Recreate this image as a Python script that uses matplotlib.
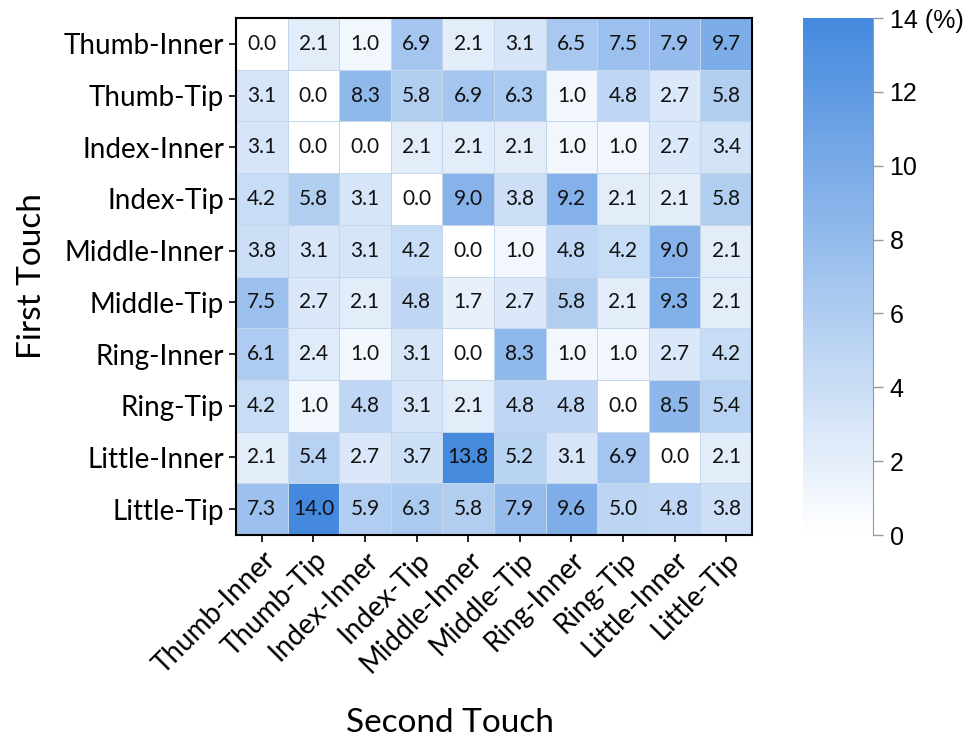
import numpy as np
import matplotlib.pyplot as plt
from matplotlib.colors import LinearSegmentedColormap

# finger segments, same order on both axes
labels = ["Thumb-Inner", "Thumb-Tip", "Index-Inner", "Index-Tip", "Middle-Inner",
          "Middle-Tip", "Ring-Inner", "Ring-Tip", "Little-Inner", "Little-Tip"]

# percentages, rows = first touch, columns = second touch
thumb_inner = [0.0, 2.1, 1.0, 6.9, 2.1, 3.1, 6.5, 7.5, 7.9, 9.7]
thumb_tip = [3.1, 0.0, 8.3, 5.8, 6.9, 6.3, 1.0, 4.8, 2.7, 5.8]
index_inner = [3.1, 0.0, 0.0, 2.1, 2.1, 2.1, 1.0, 1.0, 2.7, 3.4]
index_tip = [4.2, 5.8, 3.1, 0.0, 9.0, 3.8, 9.2, 2.1, 2.1, 5.8]
middle_inner = [3.8, 3.1, 3.1, 4.2, 0.0, 1.0, 4.8, 4.2, 9.0, 2.1]
middle_tip = [7.5, 2.7, 2.1, 4.8, 1.7, 2.7, 5.8, 2.1, 9.3, 2.1]
ring_inner = [6.1, 2.4, 1.0, 3.1, 0.0, 8.3, 1.0, 1.0, 2.7, 4.2]
ring_tip = [4.2, 1.0, 4.8, 3.1, 2.1, 4.8, 4.8, 0.0, 8.5, 5.4]
little_inner = [2.1, 5.4, 2.7, 3.7, 13.8, 5.2, 3.1, 6.9, 0.0, 2.1]
little_tip = [7.3, 14.0, 5.9, 6.3, 5.8, 7.9, 9.6, 5.0, 4.8, 3.8]

data = np.array([thumb_inner, thumb_tip, index_inner, index_tip, middle_inner,
                 middle_tip, ring_inner, ring_tip, little_inner, little_tip])

cbar_ticks = [0, 2, 4, 6, 8, 10, 12, 14]
cbar_labels = ["0", "2", "4", "6", "8", "10", "12", "14 (%)"]

cmap = LinearSegmentedColormap.from_list("wb", ["#ffffff", "#4489de"])

fig = plt.figure(figsize=(9.68, 7.38), dpi=100)
ax = fig.add_axes([0.2438, 0.275, 0.5331, 0.7006])
cax = fig.add_axes([0.8295, 0.275, 0.0723, 0.7006])

mesh = ax.pcolormesh(data, cmap=cmap, vmin=0, vmax=14,
                     edgecolor="#c4d6ec", linewidth=0.4)
ax.set_xlim(0, 10)
ax.set_ylim(10, 0)

for i in range(10):
    for j in range(10):
        ax.text(j + 0.5, i + 0.5, f"{data[i, j]:.1f}", ha="center", va="center",
                fontsize=15, family="Lato", color="#111111")

ax.set_xticks(np.arange(10) + 0.5)
ax.set_yticks(np.arange(10) + 0.5)
ax.set_xticklabels(labels, rotation=45, ha="right", rotation_mode="anchor",
                   fontsize=20, family="Lato")
ax.set_yticklabels(labels, fontsize=20, family="Lato")
ax.tick_params(length=5, width=1.2)
for s in ax.spines.values():
    s.set_linewidth(1.5)

ax.set_xlabel("Second Touch", fontsize=24, family="Lato", labelpad=20)
ax.xaxis.set_label_coords(0.415, -0.335)
ax.set_ylabel("First Touch", fontsize=24, family="Lato", labelpad=12)

cb = fig.colorbar(mesh, cax=cax)
cb.outline.set_visible(False)
cax.spines["right"].set_visible(True)
cax.spines["right"].set_color("#999999")
cb.set_ticks(cbar_ticks)
cb.set_ticklabels(cbar_labels)
cax.tick_params(labelsize=18, length=7, pad=5, color="#999999", width=1)
for t in cax.get_yticklabels():
    t.set_family("Liberation Sans")

fig.savefig("out.png", dpi=100)
